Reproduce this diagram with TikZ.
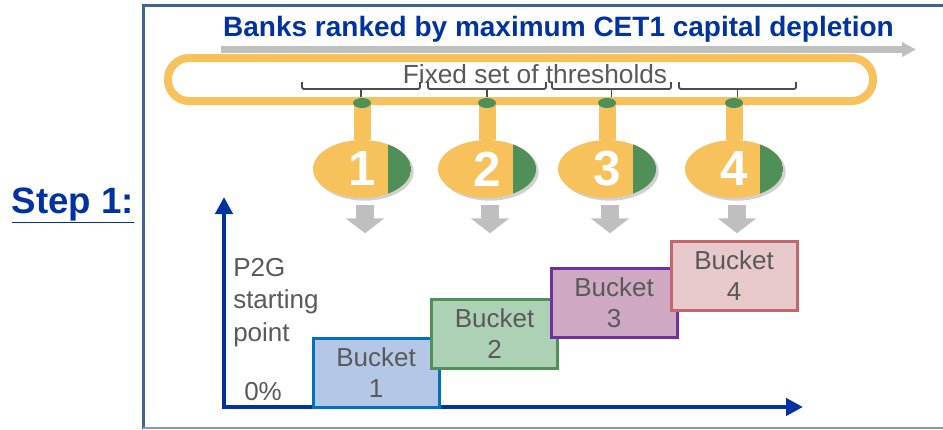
\documentclass[tikz,border=0pt]{standalone}
\usepackage{fontspec}
\setmainfont{Liberation Sans}
\usetikzlibrary{positioning,shapes.geometric,arrows.meta,shadows}
\definecolor{framecol}{HTML}{3C6494}
\definecolor{framelow}{HTML}{7F9CC0}
\definecolor{deepblue}{HTML}{0033A0}
\definecolor{rankgray}{HTML}{BFBFBF}
\definecolor{baryellow}{HTML}{F7C15C}
\definecolor{dotgreen}{HTML}{4F8F58}
\definecolor{textgray}{HTML}{595959}
\definecolor{edgeblue}{HTML}{0070C0}
\definecolor{edgepurple}{HTML}{7030A0}
\definecolor{edgepink}{HTML}{C4666E}
\definecolor{bucketblue}{HTML}{B4C7E7}
\definecolor{bucketgreen}{HTML}{ADD1B4}
\definecolor{bucketpurple}{HTML}{CFA8C4}
\definecolor{bucketpink}{HTML}{E8C9CB}

\begin{document}
\begin{tikzpicture}[x=0.75pt,y=-0.75pt,
  every node/.style={inner sep=0pt},
  plain/.style={text=textgray,font=\fontsize{19.5}{24.4}\selectfont},
  bucket/.style 2 args={draw=#1,fill=#2,line width=2.25pt,minimum width=94.5pt,minimum height=51.75pt,
    align=center,text=textgray,font=\fontsize{19.5}{23.25}\selectfont},
  thr/.style={ellipse,fill=baryellow,minimum width=73.5pt,minimum height=43.5pt,
    drop shadow={shadow xshift=2pt,shadow yshift=-2pt,opacity=0.18,fill=black},
    path picture={\fill[dotgreen] ([xshift=19.5pt]path picture bounding box.south) rectangle (path picture bounding box.north east);},
    text=white,font=\bfseries\fontsize{37}{40}\selectfont},
  dot/.style={ellipse,fill=dotgreen,minimum width=13.5pt,minimum height=7.5pt},
  stem/.style={baryellow,line width=12.75pt},
  drop/.style={rankgray,line width=13.5pt,-{Triangle[length=11.25pt,width=28.5pt]}},
  axis/.style={deepblue,line width=3.4pt,-{Triangle[length=12.75pt,width=12.75pt]}},
  thresh/.style={textgray!85!black,line width=1.4pt,rounded corners=1.5pt},
]
\useasboundingbox (0,0) rectangle (943,429);

\draw[framecol,line width=2.25pt] (943,5) -- (143,5) -- (143,429);
\draw[framelow,line width=1.2pt] (143,428) -- (943,428);

\node (step) [anchor=base,text=deepblue,font=\bfseries\fontsize{27.5}{30}\selectfont] at (73,213) {\underline{Step 1:}};

\node (title) [anchor=base,text=deepblue,font=\bfseries\fontsize{21}{24}\selectfont] at (558.5,36) {Banks ranked by maximum CET1 capital depletion};
\coordinate (rankstart) at (221,49.5);
\coordinate (rankend) at (916,49.5);
\draw[rankgray,line width=5.25pt,-{Triangle[length=10.5pt,width=10.5pt]}] (rankstart) -- (rankend);

\draw[baryellow,line width=6pt,rounded corners=15.75pt] (168,58) rectangle (873,101);
\node (fixed) [plain,anchor=base,font=\fontsize{19.7}{24}\selectfont] at (535,83) {Fixed set of thresholds};

\foreach \a/\b in {302/420,428/546,552/671,679/796} {
  \draw[thresh] (\a,82) -- (\a,89) -- (\b,89) -- (\b,82);
  \draw[thresh] ({(\a+\b)/2},89) -- ({(\a+\b)/2},97);
}

\foreach \n/\x in {1/362,2/487,3/607,4/734} {
  \node (thr\n) [thr] at (\x,169) {\raisebox{-4pt}{\n}};
  \coordinate (top\n) at (\x,103);
  \draw[stem] (top\n) -- (thr\n.north);
  \node (dot\n) [dot] at (top\n) {};
  \draw[drop] ([xshift=2.25pt,yshift=-5.25pt]thr\n.south) -- ++(0,28);
}

\coordinate (orig) at (224,407);
\coordinate (ytip) at (224,197);
\coordinate (xtip) at (803,407);
\draw[axis] ([yshift=-1.7pt]orig) -- (ytip);
\draw[axis] ([xshift=-1.7pt]orig) -- (xtip);

\node (p2g) [plain,anchor=north west,align=left] at (233,258) {P2G\\starting\\point};
\node (zero) [plain,anchor=base west] at (244,400) {0\%};

\node (b1) [bucket={edgeblue}{bucketblue}] at (376,372.5) {Bucket\\1};
\node (b2) [bucket={dotgreen}{bucketgreen}] at (494.5,333.5) {Bucket\\2};
\node (b3) [bucket={edgepurple}{bucketpurple}] at (614,302.5) {Bucket\\3};
\node (b4) [bucket={edgepink}{bucketpink}] at (734,275.5) {Bucket\\4};
\end{tikzpicture}
\end{document}
